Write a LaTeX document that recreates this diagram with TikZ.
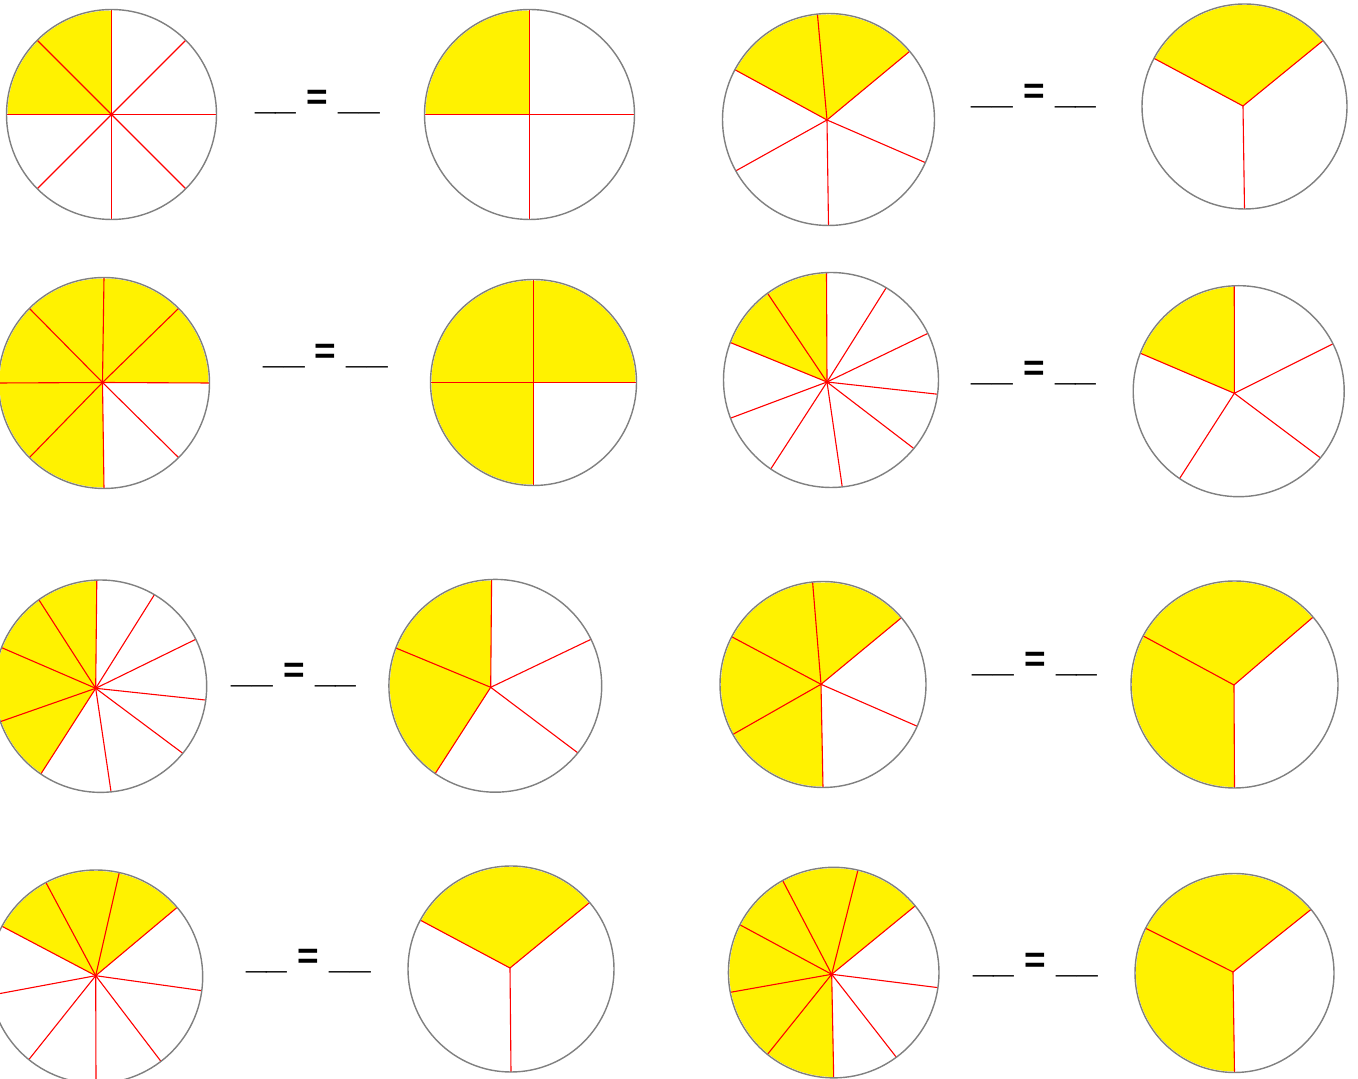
\documentclass[tikz,border=0pt]{standalone}
\usepackage{fontspec}
\setmainfont{Liberation Sans}
\definecolor{pieyellow}{RGB}{255,242,0}
\definecolor{rimgray}{RGB}{128,128,128}
\definecolor{spokered}{RGB}{255,0,0}
\tikzset{
  piefill/.style={fill=pieyellow},
  spoke/.style={draw=spokered, line width=1.1pt},
  rim/.style={draw=rimgray, line width=1.4pt},
  blanktext/.style={anchor=base west, inner sep=0pt, font=\fontsize{37}{40}\selectfont\bfseries}
}
% #1 cx, #2 cy (pixels, y down), #3 radius, #4 hub x, #5 hub y,
% #6 spoke angles, #7 shade start angle, #8 shade end angle
\newcommand{\fracpie}[8]{%
  \fill[piefill] (#4,{1079-#5}) -- ([shift={(#1,{1079-#2})}]#7:#3-1) arc[start angle=#7, end angle=#8, radius=#3-1] -- cycle;
  \foreach \a in {#6} {\draw[spoke] (#4,{1079-#5}) -- ([shift={(#1,{1079-#2})}]\a:#3);}
  \draw[rim] (#1,{1079-#2}) circle[radius=#3];
}
% #1 name, #2 left x, #3 underline y
\newcommand{\blankeq}[3]{%
  \node[blanktext] (#1) at (#2,{1079-#3+6.4}) {\_\_ = \_\_};
}
\begin{document}
\begin{tikzpicture}[x=1pt,y=1pt]
\useasboundingbox (0,0) rectangle (1358,1079);
\clip (0,0) rectangle (1358,1079);
\fill[white] (0,0) rectangle (1358,1079);
% row 1
\fracpie{111.5}{114.5}{105}{111.5}{114.5}{0,45,90,135,180,225,270,315}{90}{180}
\fracpie{529.5}{114.5}{105}{529.5}{114.5}{0,90,180,270}{90}{180}
\fracpie{828.5}{119.5}{106}{827}{120}{96,40,-24,-90,209,152}{40}{152}
\fracpie{1244.5}{106.5}{102.5}{1243}{106}{40,152,270}{40}{152}
% row 2
\fracpie{104}{383}{105.5}{102.5}{382.5}{0,45,90,135,180,225,270,315}{0}{270}
\fracpie{533.5}{382.5}{103}{533.5}{382.5}{0,90,180,270}{0}{270}
\fracpie{831}{380}{107.5}{827}{382}{92.4,59.1,25.7,-7.6,-39.6,-84,235.9,200.8,159.6,126.2}{92.4}{159.6}
\fracpie{1238.7}{391.2}{105.5}{1234.3}{393.3}{92.4,26.7,-39.2,235.9,158.9}{92.4}{158.9}
% row 3
\fracpie{100.5}{686.2}{106.2}{95.7}{688.3}{92,59.5,26.2,-7.5,-39.2,-84.3,235.8,199.5,158.7,125.5}{92}{235.8}
\fracpie{495.3}{685.8}{106.4}{490.7}{687.3}{92,25.9,-39.1,235.6,159.2}{92}{235.6}
\fracpie{823}{684.5}{103}{821}{684.3}{95.8,40.4,-23.9,-90,209,152.4}{40.4}{270}
\fracpie{1234.5}{684.5}{103.5}{1234}{685}{40.6,152,270}{40.6}{270}
% row 4
\fracpie{96}{976.7}{106.7}{95.7}{975.7}{77.4,40.5,-7.5,-52.5,-90,231,190,151.8,118}{40.5}{151.8}
\fracpie{511}{969}{103}{510}{968}{40.2,151.7,270}{40.2}{151.7}
\fracpie{833.7}{972.6}{105.3}{831.7}{974.3}{76.7,39.3,-8.2,-53.5,-90,231,190.8,153,119}{39.3}{270}
\fracpie{1234.5}{973}{99.5}{1233}{972}{39.7,153.3,270}{39.7}{270}
% blanks
\blankeq{t1}{255}{116.3}
\blankeq{t2}{971.7}{110.3}
\blankeq{t3}{263.3}{369.5}
\blankeq{t4}{971.7}{387.3}
\blankeq{t5}{231.7}{689}
\blankeq{t6}{972.7}{678}
\blankeq{t7}{246}{975}
\blankeq{t8}{973}{979}
\end{tikzpicture}
\end{document}
